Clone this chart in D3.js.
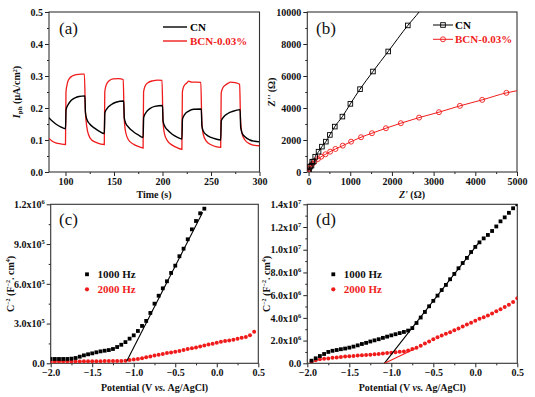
<!DOCTYPE html>
<html>
<head>
<meta charset="utf-8">
<script src="https://cdn.jsdelivr.net/npm/d3@7"></script>
<style>
body { margin: 0; background: #fff; }
text { font-family: 'Liberation Serif', 'Times New Roman', serif; }
</style>
</head>
<body>
<svg id="fig"></svg>
<script>
// (a) photocurrent, [time s, I uA/cm2]
const photoCN = [
	[83,0.170],[86,0.160],[90,0.150],[95,0.141],[100,0.135],
	[100.6,0.195],[103,0.212],[106,0.224],[110,0.232],[114,0.236],[120,0.238],
	[120.6,0.185],[122,0.165],[125,0.150],[130,0.137],[135,0.127],[140,0.120],
	[140.6,0.185],[143,0.199],[147,0.210],[152,0.218],[160,0.222],
	[160.6,0.170],[162,0.153],[165,0.140],[170,0.126],[175,0.116],[180,0.108],
	[180.6,0.170],[183,0.186],[187,0.198],[192,0.205],[200,0.208],
	[200.6,0.160],[202,0.145],[205,0.132],[210,0.118],[215,0.109],[220,0.103],
	[220.6,0.165],[223,0.180],[227,0.190],[232,0.196],[240,0.197],
	[240.6,0.145],[242,0.128],[245,0.117],[250,0.108],[255,0.103],[260,0.100],
	[260.6,0.160],[263,0.172],[267,0.182],[272,0.189],[280,0.195],
	[280.6,0.140],[282,0.122],[285,0.110],[290,0.100],[295,0.096],[300,0.094]
];
const photoBCN = [
	[83,0.105],[86,0.097],[90,0.091],[95,0.088],[100,0.086],
	[100.5,0.250],[102,0.278],[104,0.292],[107,0.300],[111,0.304],[116,0.306],[119.5,0.306],
	[120.5,0.190],[122,0.140],[124,0.115],[127,0.100],[132,0.092],[140,0.086],
	[140.5,0.250],[142,0.272],[145,0.285],[149,0.291],[155,0.292],[159.5,0.289],
	[160.5,0.170],[162,0.125],[165,0.100],[170,0.087],[175,0.080],[180,0.075],
	[180.5,0.250],[182,0.268],[185,0.279],[190,0.285],[195,0.287],[199.5,0.286],
	[200.5,0.160],[202,0.120],[205,0.098],[210,0.084],[215,0.076],[220,0.071],
	[220.5,0.250],[222,0.268],[225,0.278],[227,0.284],[230,0.281],[235,0.281],[239.5,0.280],
	[240.5,0.160],[242,0.118],[245,0.097],[250,0.085],[255,0.079],[260,0.077],
	[260.5,0.245],[262,0.262],[265,0.272],[268,0.278],[270,0.281],[275,0.279],[279.5,0.274],
	[280.5,0.160],[282,0.120],[285,0.100],[290,0.088],[295,0.083],[300,0.082]
];

// (b) Nyquist, [Z' ohm, Z'' ohm]; markers + extra line tail
const nyqCN = [
	[0,0],[10,100],[33,332],[70,400],[88,645],[120,650],[160,957],[240,1270],[320,1585],
	[415,1897],[511,2317],[630,2837],[812,3463],[1003,4258],[1235,5178],[1545,6281],[1911,7533],[2381,9161]
];
const nyqCNTail = [[2650,10000],[2720,10250]];
const nyqBCN = [
	[0,0],[10,188],[41,332],[88,501],[143,645],[224,814],[303,958],[406,1108],[518,1271],[645,1440],
	[821,1647],[1020,1897],[1259,2172],[1521,2423],[1856,2736],[2214,3049],[2651,3400],
	[3129,3738],[3630,4133],[4165,4508],[4746,4947]
];
const nyqBCNTail = [[5000,5080],[5100,5130]];

// (c) Mott-Schottky, [V vs Ag/AgCl, C^-2]
const msC1000 = [
	[-2.0,32700],[-1.95,32700],[-1.9,32700],[-1.85,32700],[-1.8,32700],[-1.75,35000],[-1.7,40000],
	[-1.65,50000],[-1.6,60000],[-1.55,68000],[-1.5,75000],[-1.45,83000],[-1.4,90000],[-1.35,95000],
	[-1.3,100000],[-1.25,108000],[-1.2,123000],[-1.15,140000],[-1.1,160000],[-1.05,186000],
	[-1.0,211000],[-0.95,244000],[-0.9,282000],[-0.85,320000],[-0.8,380000],[-0.75,450000],
	[-0.7,510000],[-0.65,566000],[-0.6,619000],[-0.55,682000],[-0.5,737000],[-0.45,808000],
	[-0.4,865000],[-0.35,936000],[-0.3,1011000],[-0.25,1074000],[-0.2,1132000],[-0.15,1167000]
];
const msC2000 = [
	[-2.0,12000],[-1.95,12500],[-1.9,13000],[-1.85,13000],[-1.8,13500],[-1.75,14000],[-1.7,14000],
	[-1.65,14500],[-1.6,15000],[-1.55,15000],[-1.5,15500],[-1.45,16000],[-1.4,16000],[-1.35,16500],
	[-1.3,17000],[-1.25,17000],[-1.2,17500],[-1.15,18000],[-1.1,20000],[-1.05,24000],[-1.0,28000],
	[-0.95,33000],[-0.9,38000],[-0.85,45000],[-0.8,52000],[-0.75,58000],[-0.7,65000],[-0.65,71000],
	[-0.6,77000],[-0.55,82000],[-0.5,87000],[-0.45,93000],[-0.4,100000],[-0.35,107000],[-0.3,113000],
	[-0.25,120000],[-0.2,127000],[-0.15,134000],[-0.1,141000],[-0.05,148000],[0.0,155000],
	[0.05,162000],[0.1,168000],[0.15,172000],[0.2,177000],[0.25,185000],[0.3,192000],
	[0.35,198000],[0.4,212000],[0.45,238000]
];
const fitC1000 = [[-1.085,15000],[-0.17,1140000]];

// (d)
const msD1000 = [
	[-1.95,230000],[-1.9,440000],[-1.85,640000],[-1.8,820000],[-1.75,1000000],[-1.7,1100000],
	[-1.65,1170000],[-1.6,1240000],[-1.55,1300000],[-1.5,1380000],[-1.45,1470000],[-1.4,1580000],
	[-1.35,1700000],[-1.3,1800000],[-1.25,1920000],[-1.2,2020000],[-1.15,2120000],[-1.1,2240000],
	[-1.05,2350000],[-1.0,2460000],[-0.95,2560000],[-0.9,2660000],[-0.85,2760000],[-0.8,2880000],
	[-0.75,3100000],[-0.7,3550000],[-0.65,4030000],[-0.6,4520000],[-0.55,5020000],[-0.5,5500000],
	[-0.45,5960000],[-0.4,6450000],[-0.35,6900000],[-0.3,7400000],[-0.25,7870000],[-0.2,8370000],
	[-0.15,8830000],[-0.1,9280000],[-0.05,9800000],[0.0,10250000],[0.05,10650000],[0.1,11000000],
	[0.15,11300000],[0.2,11650000],[0.25,12050000],[0.3,12500000],[0.35,12850000],[0.4,13250000],
	[0.45,13650000],[0.5,14000000]
];
const msD2000 = [
	[-1.95,150000],[-1.9,260000],[-1.85,350000],[-1.8,390000],[-1.75,430000],[-1.7,480000],
	[-1.65,520000],[-1.6,560000],[-1.55,600000],[-1.5,630000],[-1.45,650000],[-1.4,680000],
	[-1.35,700000],[-1.3,730000],[-1.25,760000],[-1.2,790000],[-1.15,820000],[-1.1,860000],
	[-1.05,900000],[-1.0,930000],[-0.95,970000],[-0.9,1010000],[-0.85,1050000],[-0.8,1120000],
	[-0.75,1250000],[-0.7,1380000],[-0.65,1550000],[-0.6,1740000],[-0.55,1930000],[-0.5,2120000],
	[-0.45,2300000],[-0.4,2450000],[-0.35,2600000],[-0.3,2740000],[-0.25,2900000],[-0.2,3070000],
	[-0.15,3250000],[-0.1,3420000],[-0.05,3580000],[0.0,3750000],[0.05,3920000],[0.1,4060000],
	[0.15,4200000],[0.2,4380000],[0.25,4580000],[0.3,4760000],[0.35,4960000],[0.4,5160000],
	[0.45,5400000],[0.5,5720000]
];
const fitD1000 = [[-1.083,0],[0.04,10600000]];
const fitD2000 = [[-1.08,0],[-0.7,1350000]];

const legendA = ['CN', 'BCN-0.03%'];
const legendMS = ['1000 Hz', '2000 Hz'];

const RED = '#f01c1c';
const svg = d3.select('#fig').attr('width', 535).attr('height', 397);

function sciLabel(sel, d) {
	sel.text(null);
	if (d === 0) { sel.text('0.0'); return; }
	const e = Math.floor(Math.log10(d) + 1e-9);
	const m = d / Math.pow(10, e);
	sel.append('tspan').text(m.toFixed(1) + 'x10');
	sel.append('tspan').attr('dy', -4).attr('font-size', 6.5).text(e);
}

function panel(id, box, xDom, yDom, xt, xm, yt, ym, xFmt, yFmt) {
	const g = svg.append('g');
	const x = d3.scaleLinear().domain(xDom).range([box[0], box[1]]);
	const y = d3.scaleLinear().domain(yDom).range([box[3], box[2]]);

	g.append('clipPath').attr('id', 'clip-' + id)
		.append('rect')
		.attr('x', box[0]).attr('y', box[2])
		.attr('width', box[1] - box[0]).attr('height', box[3] - box[2]);

	const styleAxis = a => {
		a.select('.domain').remove();
		a.selectAll('line').attr('stroke', '#222').attr('stroke-width', 1);
		a.selectAll('text').attr('font-size', 10).attr('font-weight', 'bold').attr('fill', '#111')
			.attr('font-family', "'Liberation Serif','Times New Roman',serif");
	};
	g.append('g').attr('transform', `translate(0,${box[3]})`)
		.call(d3.axisBottom(x).tickValues(xm).tickSize(2).tickFormat(''))
		.call(styleAxis);
	g.append('g').attr('transform', `translate(0,${box[3]})`)
		.call(d3.axisBottom(x).tickValues(xt).tickSize(4).tickPadding(2).tickFormat(xFmt))
		.call(styleAxis);
	g.append('g').attr('transform', `translate(${box[0]},0)`)
		.call(d3.axisLeft(y).tickValues(ym).tickSize(2).tickFormat(''))
		.call(styleAxis);
	const ya = g.append('g').attr('transform', `translate(${box[0]},0)`)
		.call(d3.axisLeft(y).tickValues(yt).tickSize(4).tickPadding(2).tickFormat(yFmt || null))
		.call(styleAxis);
	if (!yFmt) ya.selectAll('.tick text').each(function(d) { sciLabel(d3.select(this), d); });

	g.append('rect')
		.attr('x', box[0]).attr('y', box[2])
		.attr('width', box[1] - box[0]).attr('height', box[3] - box[2])
		.attr('fill', 'none').attr('stroke', '#333').attr('stroke-width', 1.1);

	const plot = g.append('g').attr('clip-path', `url(#clip-${id})`);
	return { g, x, y, plot };
}

function label(g, x, y, txt) {
	g.append('text').attr('x', x).attr('y', y).attr('font-size', 17).attr('fill', '#111').text(txt);
}

function boldText(g, x, y, size, fill) {
	return g.append('text').attr('x', x).attr('y', y).attr('font-size', size)
		.attr('font-weight', 'bold').attr('fill', fill || '#111');
}

// ---------- (a)
const A = panel('a', [49, 259.5, 12, 172], [83, 300], [0, 0.5],
	[100, 150, 200, 250, 300], [125, 175, 225, 275],
	[0, 0.1, 0.2, 0.3, 0.4, 0.5], [0.05, 0.15, 0.25, 0.35, 0.45],
	d3.format('d'), d3.format('.1f'));
const lineA = d3.line().x(d => A.x(d[0])).y(d => A.y(d[1])).curve(d3.curveMonotoneX);
A.plot.append('path').datum(photoBCN).attr('d', lineA)
	.attr('fill', 'none').attr('stroke', RED).attr('stroke-width', 1.3);
A.plot.append('path').datum(photoCN).attr('d', lineA)
	.attr('fill', 'none').attr('stroke', '#000').attr('stroke-width', 1.4);
label(A.g, 59, 34, '(a)');
[[27, '#000'], [41, RED]].forEach((r, i) => {
	A.g.append('line').attr('x1', 163).attr('x2', 187).attr('y1', r[0]).attr('y2', r[0])
		.attr('stroke', r[1]).attr('stroke-width', 1.4);
	boldText(A.g, 190, r[0] + 4, 11, r[1]).text(legendA[i]);
});
boldText(A.g, 154, 197.5, 10).attr('text-anchor', 'middle').text('Time (s)');
const ta = boldText(A.g, 0, 0, 10).attr('text-anchor', 'middle')
	.attr('transform', 'translate(20,92) rotate(-90)');
ta.append('tspan').attr('font-style', 'italic').text('I');
ta.append('tspan').attr('font-size', 7).attr('dy', 2).text('ph');
ta.append('tspan').attr('dy', -2).text(' (μA/cm');
ta.append('tspan').attr('font-size', 6).attr('dy', -3).text('2');
ta.append('tspan').attr('dy', 3).text(')');

// ---------- (b)
const B = panel('b', [307.3, 517, 12, 172], [-30, 5000], [0, 10000],
	[0, 1000, 2000, 3000, 4000, 5000], [500, 1500, 2500, 3500, 4500],
	[0, 2000, 4000, 6000, 8000, 10000], [1000, 3000, 5000, 7000, 9000],
	d3.format('d'), d3.format('d'));
const lineB = d3.line().x(d => B.x(d[0])).y(d => B.y(d[1])).curve(d3.curveMonotoneX);
B.plot.append('path').datum(nyqBCN.concat(nyqBCNTail)).attr('d', lineB)
	.attr('fill', 'none').attr('stroke', RED).attr('stroke-width', 1);
B.plot.append('path').datum(nyqCN.concat(nyqCNTail)).attr('d', lineB)
	.attr('fill', 'none').attr('stroke', '#000').attr('stroke-width', 1);
B.plot.selectAll('circle.bcn').data(nyqBCN).enter().append('circle')
	.attr('cx', d => B.x(d[0])).attr('cy', d => B.y(d[1])).attr('r', 2.5)
	.attr('fill', 'none').attr('stroke', RED).attr('stroke-width', 0.9);
B.plot.selectAll('rect.cn').data(nyqCN).enter().append('rect')
	.attr('x', d => B.x(d[0]) - 2.3).attr('y', d => B.y(d[1]) - 2.3)
	.attr('width', 4.6).attr('height', 4.6)
	.attr('fill', 'none').attr('stroke', '#000').attr('stroke-width', 0.9);
label(B.g, 316, 34, '(b)');
[[25, '#000'], [39.3, RED]].forEach((r, i) => {
	B.g.append('line').attr('x1', 433).attr('x2', 453).attr('y1', r[0]).attr('y2', r[0])
		.attr('stroke', r[1]).attr('stroke-width', 1);
	if (i === 0) {
		B.g.append('rect').attr('x', 440.7).attr('y', r[0] - 2.3).attr('width', 4.6).attr('height', 4.6)
			.attr('fill', 'none').attr('stroke', r[1]).attr('stroke-width', 0.9);
	} else {
		B.g.append('circle').attr('cx', 443).attr('cy', r[0]).attr('r', 2.5)
			.attr('fill', 'none').attr('stroke', r[1]).attr('stroke-width', 0.9);
	}
	boldText(B.g, 455, r[0] + 4, 11, r[1]).text(legendA[i]);
});
const tbx = boldText(B.g, 412, 197.5, 10).attr('text-anchor', 'middle');
tbx.append('tspan').attr('font-style', 'italic').text("Z'");
tbx.append('tspan').text(' (Ω)');
const tby = boldText(B.g, 0, 0, 10).attr('text-anchor', 'middle')
	.attr('transform', 'translate(275,92) rotate(-90)');
tby.append('tspan').attr('font-style', 'italic').text("Z''");
tby.append('tspan').text(' (Ω)');

// ---------- (c) and (d)
function msPanel(id, box, yMax, yt, ym, s1000, s2000, fits, lx) {
	const P = panel(id, box, [-2, 0.5], [0, yMax],
		[-2, -1.5, -1, -0.5, 0, 0.5], [-1.75, -1.25, -0.75, -0.25, 0.25],
		yt, ym, d3.format('.1f'), null);
	const ln = d3.line().x(d => P.x(d[0])).y(d => P.y(d[1]));
	P.plot.selectAll('circle.s2').data(s2000).enter().append('circle')
		.attr('cx', d => P.x(d[0])).attr('cy', d => P.y(d[1])).attr('r', 2)
		.attr('fill', RED);
	P.plot.selectAll('rect.s1').data(s1000).enter().append('rect')
		.attr('x', d => P.x(d[0]) - 1.9).attr('y', d => P.y(d[1]) - 1.9)
		.attr('width', 3.8).attr('height', 3.8).attr('fill', '#000');
	fits.forEach(f => {
		P.plot.append('path').datum(f[0]).attr('d', ln)
			.attr('fill', 'none').attr('stroke', f[1]).attr('stroke-width', 1.1);
	});
	P.g.append('rect').attr('x', lx - 1.9).attr('y', 274.3 - 1.9).attr('width', 3.8).attr('height', 3.8)
		.attr('fill', '#000');
	P.g.append('circle').attr('cx', lx).attr('cy', 289.3).attr('r', 2.1).attr('fill', RED);
	boldText(P.g, lx + 10.5, 278.3, 11).text(legendMS[0]);
	boldText(P.g, lx + 10.5, 293.3, 11, RED).text(legendMS[1]);
	const tx = boldText(P.g, (box[0] + box[1]) / 2, 391, 10).attr('text-anchor', 'middle');
	tx.append('tspan').text('Potential (V ');
	tx.append('tspan').attr('font-style', 'italic').text('vs.');
	tx.append('tspan').text(' Ag/AgCl)');
	return P;
}
function msTitle(P, tx) {
	const t = boldText(P.g, 0, 0, 10).attr('text-anchor', 'middle')
		.attr('transform', `translate(${tx},284) rotate(-90)`);
	t.append('tspan').text('C');
	t.append('tspan').attr('font-size', 6).attr('dy', -4).text('−2');
	t.append('tspan').attr('dy', 4).text(' (F');
	t.append('tspan').attr('font-size', 6).attr('dy', -4).text('−2');
	t.append('tspan').attr('dy', 4).text('. cm');
	t.append('tspan').attr('font-size', 6).attr('dy', -4).text('4');
	t.append('tspan').attr('dy', 4).text(')');
}

const C = msPanel('c', [50.7, 258.3, 204.3, 363.3], 1.2e6,
	[0, 3e5, 6e5, 9e5, 1.2e6], [1.5e5, 4.5e5, 7.5e5, 1.05e6],
	msC1000, msC2000, [[fitC1000, '#000']], 87);
label(C.g, 59, 225, '(c)');
msTitle(C, 14);

const D = msPanel('d', [307.3, 517.3, 204.3, 363.3], 1.4e7,
	[0, 2e6, 4e6, 6e6, 8e6, 1e7, 1.2e7, 1.4e7], [1e6, 3e6, 5e6, 7e6, 9e6, 1.1e7, 1.3e7],
	msD1000, msD2000, [[fitD1000, '#000'], [fitD2000, RED]], 333.3);
label(D.g, 316, 225, '(d)');
msTitle(D, 270);
</script>
</body>
</html>
